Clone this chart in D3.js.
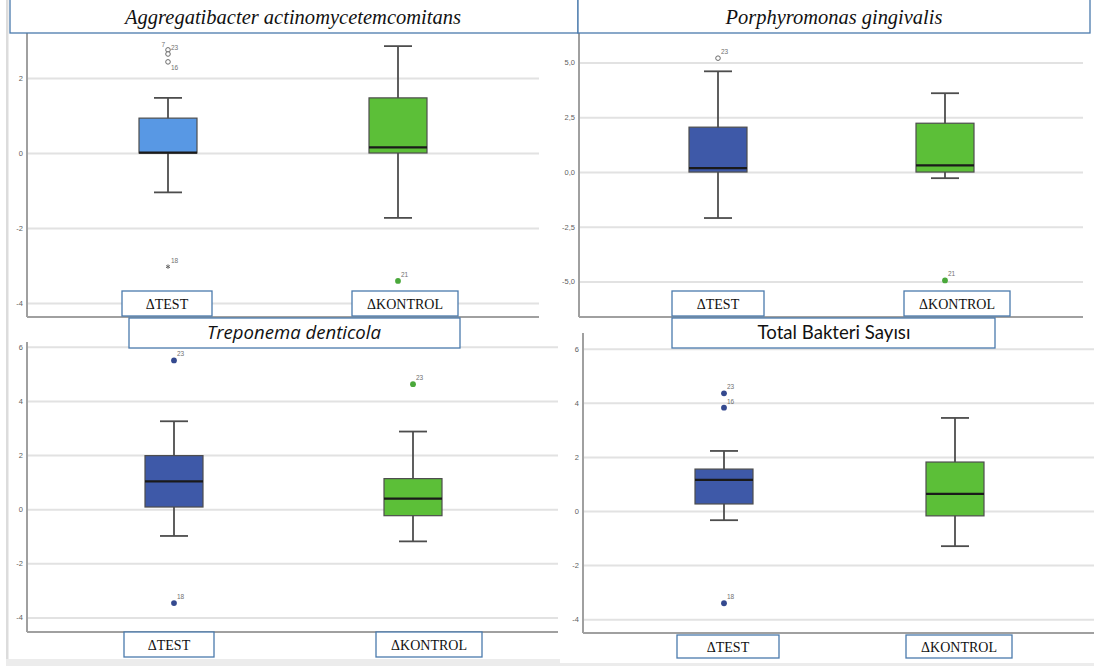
<!DOCTYPE html>
<html>
<head>
<meta charset="utf-8">
<script src="https://cdn.jsdelivr.net/npm/d3@7"></script>
<style>
  html, body { margin: 0; padding: 0; background: #ffffff; }
  svg { display: block; }
</style>
</head>
<body>
<svg id="chart" width="1094" height="666"></svg>
<script>
// ---- data ----
const groups = ["ΔTEST", "ΔKONTROL"];
const panelTitles = [
  "Aggregatibacter actinomycetemcomitans",
  "Porphyromonas gingivalis",
  "Treponema denticola",
  "Total Bakteri Sayısı"
];

// box summaries per group: [lower whisker, Q1, median, Q3, upper whisker]
const aggStats = [[-1.05, 0.00, 0.01, 0.93, 1.47], [-1.73, 0.00, 0.15, 1.47, 2.85]];
const porStats = [[-2.10, 0.00, 0.18, 2.05, 4.60], [-0.28, 0.00, 0.30, 2.23, 3.60]];
const treStats = [[-0.99, 0.08, 1.03, 1.98, 3.25], [-1.19, -0.24, 0.39, 1.13, 2.87]];
const totStats = [[-0.34, 0.26, 1.15, 1.55, 2.22], [-1.30, -0.18, 0.63, 1.81, 3.44]];

// outlying cases: group index, value, case number, marker kind
const aggOutliers = [
  { g: 0, v: 2.75, id: "7", kind: "circle" },
  { g: 0, v: 2.64, id: "23", kind: "circle" },
  { g: 0, v: 2.43, id: "16", kind: "circle" },
  { g: 0, v: -3.03, id: "18", kind: "star" },
  { g: 1, v: -3.41, id: "21", kind: "dot" }
];
const porOutliers = [
  { g: 0, v: 5.20, id: "23", kind: "circle" },
  { g: 1, v: -4.95, id: "21", kind: "dot" }
];
const treOutliers = [
  { g: 0, v: 5.50, id: "23", kind: "dot" },
  { g: 0, v: -3.47, id: "18", kind: "dot" },
  { g: 1, v: 4.62, id: "23", kind: "dot" }
];
const totOutliers = [
  { g: 0, v: 4.35, id: "23", kind: "dot" },
  { g: 0, v: 3.82, id: "16", kind: "dot" },
  { g: 0, v: -3.41, id: "18", kind: "dot" }
];

const aggTicks = [-4, -2, 0, 2];
const porTicks = [-5, -2.5, 0, 2.5, 5];
const treTicks = [-4, -2, 0, 2, 4, 6];
const totTicks = [-4, -2, 0, 2, 4, 6];

// ---- layout ----
const BORDER = "#4a7aad";
const SERIF = "'Liberation Serif', 'DejaVu Serif', 'Times New Roman', serif";
const SANS = "'Liberation Sans', Arial, sans-serif";
const C = {
  lightBlue: "#5898e4",
  darkBlue: "#3e59a8",
  green: "#5cbf38",
  dotBlue: "#34498f",
  dotGreen: "#4aa83a",
  grid: "#e2e2e2",
  axis: "#a0a0a0",
  stroke: "#4d4d4d",
  tick: "#606060"
};

const panels = [
  {
    stats: aggStats, outliers: aggOutliers, ticks: aggTicks,
    fmt: d => String(d),
    plot: { left: 27, right: 539, top: 33, bottom: 317 },
    domain: [-4.373, 3.2], xr: [168, 398],
    fills: [C.lightBlue, C.green], dots: ["#6a6a6a", C.dotGreen],
    title: { x: 10, y: -2, w: 568, h: 35, cx: 293, cy: 24, width: 336, font: SERIF, italic: true, size: 19 },
    labels: [{ x: 122, y: 291, w: 90, h: 25 }, { x: 352, y: 291, w: 106, h: 25 }],
    place: ["lu", "ru", "rd", "ru", "ru"]
  },
  {
    stats: porStats, outliers: porOutliers, ticks: porTicks,
    fmt: d => d.toFixed(1).replace(".", ","),
    plot: { left: 579, right: 1083, top: 33, bottom: 317 },
    domain: [-6.62, 6.35], xr: [718, 945],
    fills: [C.darkBlue, C.green], dots: ["#6a6a6a", C.dotGreen],
    title: { x: 578, y: -2, w: 512, h: 35, cx: 834, cy: 24, width: 217, font: SERIF, italic: true, size: 19 },
    labels: [{ x: 672, y: 291, w: 92, h: 25 }, { x: 904, y: 291, w: 106, h: 25 }],
    place: ["ru", "ru"]
  },
  {
    stats: treStats, outliers: treOutliers, ticks: treTicks,
    fmt: d => String(d),
    plot: { left: 27, right: 558, top: 342, bottom: 632 },
    domain: [-4.54, 6.18], xr: [174, 413],
    fills: [C.darkBlue, C.green], dots: [C.dotBlue, C.dotGreen],
    title: { x: 129, y: 318, w: 331, h: 30, cx: 294, cy: 339, width: 174, font: "'Open Sans', 'Liberation Sans', sans-serif", italic: true, size: 17 },
    labels: [{ x: 124, y: 632, w: 90, h: 25 }, { x: 376, y: 632, w: 106, h: 25 }],
    place: ["ru", "ru", "ru"]
  },
  {
    stats: totStats, outliers: totOutliers, ticks: totTicks,
    fmt: d => String(d),
    plot: { left: 583, right: 1094, top: 333, bottom: 633 },
    domain: [-4.51, 6.58], xr: [724, 955],
    fills: [C.darkBlue, C.green], dots: [C.dotBlue, C.dotGreen],
    title: { x: 672, y: 318, w: 323, h: 30, cx: 834, cy: 339, width: 153, font: "Lato, 'Open Sans', sans-serif", italic: false, size: 17 },
    labels: [{ x: 677, y: 635, w: 102, h: 23 }, { x: 906, y: 635, w: 106, h: 23 }],
    place: ["ru", "ru", "ru"]
  }
];

const svg = d3.select("#chart");

// page furniture: faint grey frame line on the left and band at the bottom
svg.append("rect").attr("x", 0).attr("y", 0).attr("width", 1094).attr("height", 666).attr("fill", "#ffffff");
svg.append("rect").attr("x", 6).attr("y", 0).attr("width", 2.5).attr("height", 662).attr("fill", "#dcdcdc");
svg.append("rect").attr("x", 6).attr("y", 659).attr("width", 1088).attr("height", 7).attr("fill", "#ececec");

function fitText(sel, target) {
  const len = sel.node().getComputedTextLength();
  if (len > 0) {
    const size = parseFloat(sel.attr("font-size"));
    sel.attr("font-size", (size * target / len).toFixed(2));
  }
}

panels.forEach((p, i) => {
  const g = svg.append("g");
  const y = d3.scaleLinear().domain(p.domain).range([p.plot.bottom, p.plot.top]);
  const x = d3.scalePoint().domain(groups).range(p.xr);
  const w = p.plot.right - p.plot.left;

  // white plot background (covers neighbouring gridlines)
  if (i === 3) {
    g.append("rect").attr("x", 560).attr("y", p.plot.top - 10).attr("width", 1094 - 560).attr("height", p.plot.bottom - p.plot.top + 40).attr("fill", "#fff");
  }

  // gridlines + tick labels
  const ax = g.append("g")
    .attr("transform", `translate(${p.plot.left},0)`)
    .call(d3.axisLeft(y).tickValues(p.ticks).tickSize(-w).tickPadding(4).tickFormat(p.fmt));
  ax.select(".domain").remove();
  ax.selectAll(".tick line").attr("stroke", C.grid).attr("stroke-width", 2);
  ax.selectAll(".tick text")
    .attr("fill", C.tick)
    .attr("font-family", SANS)
    .attr("font-size", 7.5);

  // axis lines
  g.append("line").attr("x1", p.plot.left).attr("x2", p.plot.left)
    .attr("y1", p.plot.top).attr("y2", p.plot.bottom)
    .attr("stroke", C.axis).attr("stroke-width", 2);
  g.append("line").attr("x1", p.plot.left).attr("x2", p.plot.right)
    .attr("y1", p.plot.bottom).attr("y2", p.plot.bottom)
    .attr("stroke", C.axis).attr("stroke-width", 2);

  const boxW = 58, capW = 28;
  const boxes = g.selectAll("g.box").data(p.stats).join("g").attr("class", "box")
    .attr("transform", (d, k) => `translate(${x(groups[k])},0)`);

  // whiskers
  boxes.append("line").attr("x1", 0).attr("x2", 0)
    .attr("y1", d => y(d[0])).attr("y2", d => y(d[4]))
    .attr("stroke", C.stroke).attr("stroke-width", 1.8);
  boxes.selectAll("line.cap").data(d => [d[0], d[4]]).join("line").attr("class", "cap")
    .attr("x1", -capW / 2).attr("x2", capW / 2)
    .attr("y1", v => y(v)).attr("y2", v => y(v))
    .attr("stroke", C.stroke).attr("stroke-width", 1.8);
  // box
  boxes.append("rect")
    .attr("x", -boxW / 2).attr("width", boxW)
    .attr("y", d => y(d[3])).attr("height", d => y(d[1]) - y(d[3]))
    .attr("fill", (d, k) => p.fills[k])
    .attr("stroke", C.stroke).attr("stroke-width", 1.2);
  // median
  boxes.append("line")
    .attr("x1", -boxW / 2).attr("x2", boxW / 2)
    .attr("y1", d => y(d[2])).attr("y2", d => y(d[2]))
    .attr("stroke", "#1a1a1a").attr("stroke-width", 2.2);

  // outliers
  const offs = { ru: [3, -4, "start"], rd: [3, 8, "start"], lu: [-3, -3, "end"] };
  p.outliers.forEach((o, k) => {
    const cx = x(groups[o.g]), cy = y(o.v);
    if (o.kind === "circle") {
      g.append("circle").attr("cx", cx).attr("cy", cy).attr("r", 2.3)
        .attr("fill", "#fff").attr("stroke", "#6a6a6a").attr("stroke-width", 1);
    } else if (o.kind === "star") {
      g.append("path").attr("d", d3.symbol(d3.symbolAsterisk, 14)())
        .attr("transform", `translate(${cx},${cy})`)
        .attr("stroke", "#6a6a6a").attr("stroke-width", 1).attr("fill", "none");
    } else {
      g.append("circle").attr("cx", cx).attr("cy", cy).attr("r", 2.9)
        .attr("fill", p.dots[o.g]);
    }
    const of = offs[p.place[k]];
    g.append("text").attr("x", cx + of[0]).attr("y", cy + of[1])
      .attr("text-anchor", of[2])
      .attr("font-family", SANS)
      .attr("font-size", 6.5).attr("fill", "#707070")
      .text(o.id);
  });

  // group label boxes
  p.labels.forEach((b, k) => {
    g.append("rect").attr("x", b.x).attr("y", b.y).attr("width", b.w).attr("height", b.h)
      .attr("fill", "#fff").attr("stroke", BORDER).attr("stroke-width", 1.3);
    g.append("text").attr("x", b.x + b.w / 2).attr("y", b.y + b.h / 2 + 5)
      .attr("text-anchor", "middle")
      .attr("font-family", SERIF)
      .attr("font-size", 14).attr("fill", "#111")
      .text(groups[k]);
  });
});

// panel title boxes drawn last so they sit above neighbouring plots
panels.forEach((p, i) => {
  const t = p.title;
  svg.append("rect").attr("x", t.x).attr("y", t.y).attr("width", t.w).attr("height", t.h)
    .attr("fill", "#fff").attr("stroke", BORDER).attr("stroke-width", 1.3);
  const txt = svg.append("text").attr("x", t.cx).attr("y", t.cy)
    .attr("text-anchor", "middle")
    .attr("font-family", t.font)
    .attr("font-style", t.italic ? "italic" : "normal")
    .attr("font-size", t.size).attr("fill", "#111")
    .text(panelTitles[i]);
  fitText(txt, t.width);
});
</script>
</body>
</html>
